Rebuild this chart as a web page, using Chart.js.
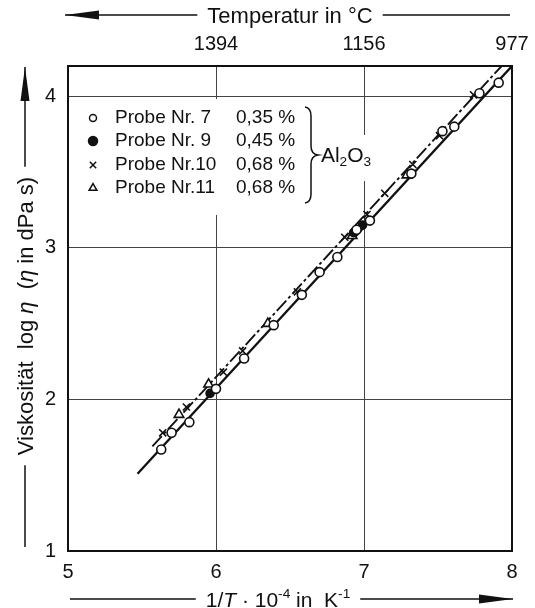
<!DOCTYPE html>
<html lang="de">
<head>
  <meta charset="UTF-8">
  <title>Viskosität über 1/T</title>
  <script src="https://cdn.jsdelivr.net/npm/chart.js"></script>
  <style>
    body { margin: 0; background: #fff; }
    #wrap { width: 535px; height: 608px; }
  </style>
</head>
<body>
  <div id="wrap"><canvas id="chart" width="535" height="608"></canvas></div>

  <script>
    const p7x  = [5.63, 5.70, 5.82, 6.00, 6.19, 6.39, 6.58, 6.70, 6.82, 6.95, 7.04, 7.32, 7.53, 7.61, 7.78, 7.91];
    const p7y  = [1.67, 1.78, 1.85, 2.07, 2.27, 2.49, 2.69, 2.84, 2.94, 3.12, 3.18, 3.49, 3.77, 3.80, 4.02, 4.09];
    const p9x  = [5.96, 6.93, 6.99];
    const p9y  = [2.04, 3.10, 3.15];
    const p10x = [5.64, 5.80, 6.05, 6.18, 6.55, 6.87, 7.02, 7.14, 7.33, 7.51, 7.74];
    const p10y = [1.78, 1.95, 2.18, 2.32, 2.71, 3.07, 3.22, 3.36, 3.55, 3.74, 4.01];
    const p11x = [5.75, 5.95, 6.35, 6.92, 7.29];
    const p11y = [1.90, 2.10, 2.50, 3.08, 3.48];

    // Ausgleichsgeraden
    const fitSolidX = [5.47, 8.00];
    const fitSolidY = [1.51, 4.20];
    const fitDashX  = [5.57, 7.93];
    const fitDashY  = [1.69, 4.20];

    // Achsen
    const xTicks = [5, 6, 7, 8];
    const yTicks = [1, 2, 3, 4];
    const topTickPos = [6, 7, 8];
    const topTickLabels = ['1394', '1156', '977'];

    // Legende
    const probeNames  = ['Probe Nr. 7', 'Probe Nr. 9', 'Probe Nr.10', 'Probe Nr.11'];
    const probeShares = ['0,35 %', '0,45 %', '0,68 %', '0,68 %'];
    const probeStyles = ['circle', 'circle', 'crossRot', 'triangle'];

    const INK = '#111';
    const FONT = '"Liberation Sans", Arial, sans-serif';

    const zip = (xs, ys) => xs.map((x, i) => ({ x: x, y: ys[i] }));

    function pointSet(label, xs, ys, style, filled, r) {
      return {
        label: label,
        data: zip(xs, ys),
        showLine: false,
        pointStyle: style,
        pointRadius: r,
        pointBorderWidth: 1.6,
        pointBorderColor: INK,
        pointBackgroundColor: filled ? INK : '#fff',
        order: 1
      };
    }

    // Text mit kursiven / hoch- und tiefgestellten Teilen
    function runsWidth(ctx, runs, size) {
      let w = 0;
      runs.forEach(r => {
        const s = (r.sup || r.sub) ? size * 0.65 : size;
        ctx.font = (r.it ? 'italic ' : '') + s + 'px ' + FONT;
        w += ctx.measureText(r.t).width;
      });
      return w;
    }
    function drawRuns(ctx, runs, cx, cy, size) {
      const w = runsWidth(ctx, runs, size);
      let x = cx - w / 2;
      ctx.textBaseline = 'alphabetic';
      ctx.textAlign = 'left';
      const base = cy + size * 0.36;
      runs.forEach(r => {
        const s = (r.sup || r.sub) ? size * 0.65 : size;
        ctx.font = (r.it ? 'italic ' : '') + s + 'px ' + FONT;
        let y = base;
        if (r.sup) y = base - size * 0.42;
        if (r.sub) y = base + size * 0.22;
        ctx.fillText(r.t, x, y);
        x += ctx.measureText(r.t).width;
      });
      return w;
    }

    // Pfeil mit Beschriftung in der Mitte (entlang der lokalen x-Richtung)
    function arrowLine(ctx, from, to, textCenter, textW, headAtStart) {
      ctx.strokeStyle = INK;
      ctx.fillStyle = INK;
      ctx.lineWidth = 1.5;
      const headLen = 34, headHalf = 4.5;
      ctx.beginPath();
      if (headAtStart) {
        ctx.moveTo(from, 0); ctx.lineTo(from + headLen, -headHalf); ctx.lineTo(from + headLen, headHalf);
      } else {
        ctx.moveTo(to, 0); ctx.lineTo(to - headLen, -headHalf); ctx.lineTo(to - headLen, headHalf);
      }
      ctx.closePath();
      ctx.fill();
      ctx.beginPath();
      ctx.moveTo(from, 0); ctx.lineTo(textCenter - textW / 2 - 10, 0);
      ctx.moveTo(textCenter + textW / 2 + 10, 0); ctx.lineTo(to, 0);
      ctx.stroke();
    }

    const decoPlugin = {
      id: 'deco',
      beforeDatasetsDraw(chart) {
        const ctx = chart.ctx;
        const a = chart.chartArea;
        ctx.save();
        // Gitter hinter Legende und Al2O3 ausblenden
        ctx.fillStyle = '#fff';
        ctx.fillRect(a.left + 4, 99, 230, 116);
        ctx.fillRect(318, 135, 58, 46);
        // Rahmen
        ctx.strokeStyle = INK;
        ctx.lineWidth = 2;
        ctx.strokeRect(a.left, a.top, a.right - a.left, a.bottom - a.top);
        ctx.restore();
      },
      afterDraw(chart) {
        const ctx = chart.ctx;
        ctx.save();

        // Legende
        const rowY = [118, 141, 165, 188];
        probeNames.forEach((name, i) => {
          ctx.lineWidth = 1.5;
          ctx.fillStyle = (i === 1) ? INK : '#fff';
          ctx.strokeStyle = INK;
          Chart.helpers.drawPoint(ctx, {
            pointStyle: probeStyles[i], radius: (i === 0) ? 3.5 : 4.5,
            rotation: 0, borderWidth: 1.5
          }, 93, rowY[i]);
          ctx.fillStyle = INK;
          ctx.font = '19px ' + FONT;
          ctx.textBaseline = 'middle';
          ctx.textAlign = 'left';
          ctx.fillText(name, 115, rowY[i]);
          ctx.fillText(probeShares[i], 236, rowY[i]);
        });

        // geschweifte Klammer
        ctx.strokeStyle = INK;
        ctx.lineWidth = 1.5;
        ctx.beginPath();
        ctx.moveTo(305, 107);
        ctx.quadraticCurveTo(311, 108, 311, 116);
        ctx.lineTo(311, 146);
        ctx.quadraticCurveTo(311, 154, 318, 155);
        ctx.quadraticCurveTo(311, 156, 311, 164);
        ctx.lineTo(311, 194);
        ctx.quadraticCurveTo(311, 202, 305, 203);
        ctx.stroke();

        ctx.fillStyle = INK;
        drawRuns(ctx, [{ t: 'Al' }, { t: '2', sub: true }, { t: 'O' }, { t: '3', sub: true }], 346, 154, 21);

        // obere Achse: Temperatur
        ctx.save();
        ctx.translate(0, 15);
        ctx.fillStyle = INK;
        const wTop = drawRuns(ctx, [{ t: 'Temperatur in °C' }], 290, 0, 22);
        arrowLine(ctx, 65, 510, 290, wTop, true);
        ctx.restore();

        // untere Achse
        ctx.save();
        ctx.translate(0, 599);
        ctx.fillStyle = INK;
        const wBot = drawRuns(ctx, [
          { t: '1/' }, { t: 'T', it: true }, { t: ' · 10' }, { t: '-4', sup: true },
          { t: ' in  K' }, { t: '-1', sup: true }
        ], 278, 0, 21);
        arrowLine(ctx, 70, 513, 278, wBot, false);
        ctx.restore();

        // linke Achse
        ctx.save();
        ctx.translate(25, 0);
        ctx.rotate(-Math.PI / 2);
        ctx.fillStyle = INK;
        const wLeft = drawRuns(ctx, [
          { t: 'Viskosität  log ' }, { t: 'η', it: true }, { t: '  (' }, { t: 'η', it: true },
          { t: ' in dPa s)' }
        ], -316, 0, 22);
        arrowLine(ctx, -547, -67, -316, wLeft, false);
        ctx.restore();

        ctx.restore();
      }
    };

    // feste Achsmaße, damit die Zeichenfläche bei 68..512 / 66..551 liegt
    function fixH(h) {
      return s => { s.height = h; s.paddingLeft = 0; s.paddingRight = 0; };
    }

    const ctx = document.getElementById('chart').getContext('2d');
    new Chart(ctx, {
      type: 'scatter',
      data: {
        datasets: [
          {
            label: 'Gerade 1', data: zip(fitSolidX, fitSolidY), showLine: true,
            borderColor: INK, borderWidth: 2.3, pointRadius: 0, order: 2
          },
          {
            label: 'Gerade 2', data: zip(fitDashX, fitDashY), showLine: true,
            borderColor: INK, borderWidth: 1.9, borderDash: [14, 3, 3, 3], pointRadius: 0, order: 2
          },
          pointSet(probeNames[0], p7x, p7y, 'circle', false, 4.5),
          pointSet(probeNames[1], p9x, p9y, 'circle', true, 4),
          pointSet(probeNames[2], p10x, p10y, 'crossRot', false, 5),
          pointSet(probeNames[3], p11x, p11y, 'triangle', false, 5.5)
        ]
      },
      options: {
        responsive: false,
        animation: false,
        layout: { padding: { left: 0, right: 23, top: 0, bottom: 0 } },
        plugins: { legend: { display: false }, tooltip: { enabled: false } },
        scales: {
          x: {
            type: 'linear', position: 'bottom', min: 5, max: 8,
            afterBuildTicks: s => { s.ticks = xTicks.map(v => ({ value: v })); },
            afterFit: fixH(57),
            ticks: { font: { size: 20, family: FONT }, color: INK, padding: 9 },
            grid: { color: '#444', lineWidth: 1, drawTicks: false },
            border: { display: false }
          },
          xTop: {
            type: 'linear', position: 'top', min: 5, max: 8,
            afterBuildTicks: s => { s.ticks = topTickPos.map(v => ({ value: v })); },
            afterFit: fixH(66),
            ticks: {
              font: { size: 20, family: FONT }, color: INK, padding: 10,
              callback: v => topTickLabels[topTickPos.indexOf(v)]
            },
            grid: { display: false, drawTicks: false },
            border: { display: false }
          },
          y: {
            type: 'linear', min: 1, max: 4.2,
            afterBuildTicks: s => { s.ticks = yTicks.map(v => ({ value: v })); },
            afterFit: s => { s.width = 68; s.paddingTop = 0; s.paddingBottom = 0; },
            ticks: { font: { size: 20, family: FONT }, color: INK, padding: 12 },
            grid: { color: '#444', lineWidth: 1, drawTicks: false },
            border: { display: false }
          }
        }
      },
      plugins: [decoPlugin]
    });
  </script>
</body>
</html>
